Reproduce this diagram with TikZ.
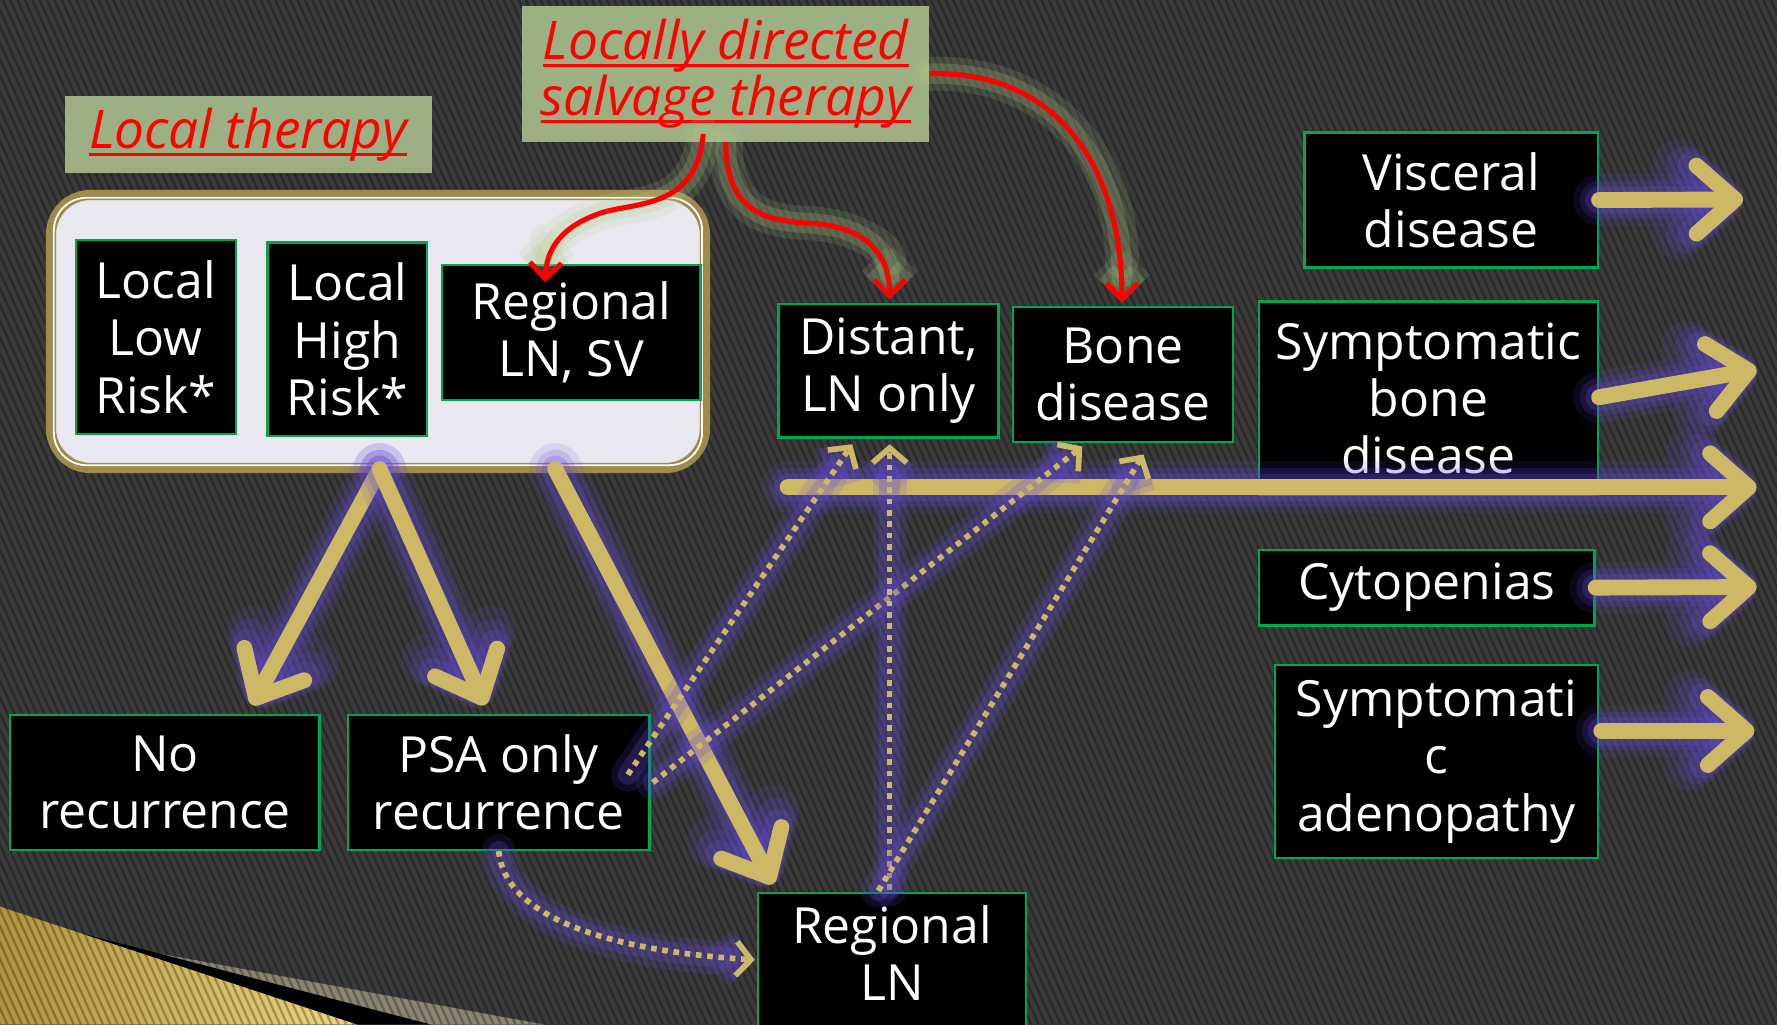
\documentclass[tikz,border=0pt]{standalone}
\usepackage{fontspec}
\setmainfont{Open Sans}
\usetikzlibrary{arrows.meta,calc}

\definecolor{bgbase}{RGB}{58,58,58}
\definecolor{gold}{RGB}{205,184,102}
\definecolor{glowp}{RGB}{100,74,215}
\definecolor{glowg}{RGB}{175,205,135}
\definecolor{sage}{RGB}{157,176,132}
\definecolor{boxgreen}{RGB}{0,165,80}
\definecolor{framegold}{RGB}{160,138,74}
\definecolor{panelfill}{RGB}{233,231,239}
\definecolor{wedgebeige}{RGB}{138,133,112}
\definecolor{wedgegoldA}{RGB}{176,148,62}
\definecolor{wedgegoldB}{RGB}{238,214,130}

\newcommand\boxfont{\fontsize{44}{50.5}\selectfont}
\newcommand\headfont{\fontsize{47}{49}\selectfont\itshape}
% underline drawn at a fixed depth below the baseline
\newcommand\redul[1]{\leavevmode\setbox0\hbox{#1}\rlap{\rule[-6.5pt]{\wd0}{2.6pt}}\box0}

\tikzset{
  box/.style={draw=boxgreen, line width=2, fill=black, text=white, align=center,
    inner sep=0, font=\boxfont},
  boxtext/.style={text=white, align=center, inner sep=0, font=\boxfont},
  head/.style={fill=sage, inner sep=0, text=red, align=center, font=\headfont},
  garrow/.style={draw=gold, line width=14, line cap=round,
    -{Straight Barb[length=34pt,width=60pt,round]},
    preaction={draw=glowp, opacity=.12, line width=46, line cap=round},
    preaction={draw=glowp, opacity=.18, line width=34, line cap=round},
    preaction={draw=glowp, opacity=.25, line width=24, line cap=round}},
  darrow/.style={draw=gold, line width=5, dash pattern=on 5pt off 5pt,
    -{Straight Barb[length=13pt,width=30pt]},
    preaction={draw=glowp, opacity=.16, line width=30, solid, line cap=round},
    preaction={draw=glowp, opacity=.24, line width=18, solid, line cap=round}},
  rarrow/.style={draw=red, line width=4.5,
    -{Straight Barb[length=14pt,width=28pt]},
    preaction={draw=glowg, opacity=.15, line width=30, line cap=round},
    preaction={draw=glowg, opacity=.22, line width=18, line cap=round}},
}

\begin{document}
\begin{tikzpicture}[x=1pt,y=-1pt]
\useasboundingbox (0,0) rectangle (1568,904);

% backdrop
\fill[bgbase] (0,0) rectangle (1568,904);
\fill[wedgebeige] (95,833) -- (480,904) -- (0,904) -- (0,833) -- cycle;
\fill[black] (70,823) -- (380,904) -- (0,904) -- cycle;
\shade[left color=wedgegoldA, right color=wedgegoldB] (0,800) -- (315,904) -- (0,904) -- cycle;
\begin{scope}
  \clip (0,0) rectangle (1568,904);
  \foreach \i in {-420,-413.5,...,1570}
    \draw[black, opacity=.28, line width=2] (\i,0) -- ++(407,904);
\end{scope}

% headings
\node[head, minimum width=324, minimum height=68] (localth) at (219,119)
  {\redul{Local therapy}};
\node[head, minimum width=359, minimum height=120] (salvage) at (640.5,65)
  {\redul{Locally directed}\\\redul{salvage therapy}};

% panel of local states
\node[draw=framegold, line width=9, fill=panelfill, rounded corners=35,
  minimum width=577, minimum height=241] (panel) at (333.5,292.5) {};
\draw[white, line width=1.6, rounded corners=29]
  ($(panel.south west)+(7,-7)$) rectangle ($(panel.north east)+(-7,7)$);

\node[box, minimum width=141, minimum height=171] (lowrisk) at (137.5,297.5) {Local\\Low\\Risk*};
\node[box, minimum width=141, minimum height=171] (highrisk) at (306.5,299.5) {Local\\High\\Risk*};
\node[box, minimum width=228, minimum height=119] (regsv) at (504,293.5) {Regional\\LN, SV};

% disease states
\node[box, minimum width=194, minimum height=118] (distant) at (784,327) {Distant,\\LN only};
\node[box, minimum width=194, minimum height=119] (bone) at (991,330.5) {Bone\\disease};
\node[box, minimum width=259, minimum height=119] (visceral) at (1280.5,176.5) {Visceral\\disease};
\node[box, minimum width=299, minimum height=171] (symbone) at (1260.5,351.5) {Symptomatic\\bone\\disease};
\node[box, minimum width=296, minimum height=67] (cyto) at (1259,518.5) {Cytopenias};
\node[box, minimum width=285, minimum height=170] (symadeno) at (1267.5,672) {Symptomati\\c\\adenopathy};
\node[box, minimum width=273, minimum height=119] (norec) at (145.5,690.5) {No\\recurrence};
\node[box, minimum width=266, minimum height=119] (psa) at (440,690.5) {PSA only\\recurrence};
\node[box, minimum width=236, minimum height=160, anchor=north] (reglnbox) at (787,787) {};
\node[boxtext] (regln) at (787,841) {Regional\\LN};

% solid transitions
\coordinate (fork) at (335,414);
\coordinate (forkb) at (490,414);
\coordinate (hl) at (695,430);
\coordinate (hr) at (1550,430);
\coordinate (ve) at (1538,176);
\coordinate (be) at (1550,326);
\coordinate (ce) at (1550,518);
\coordinate (ae) at (1548,645);

\draw[garrow] (fork) -- ($(norec.north)+(77,-8)$);
\draw[garrow] (fork) -- ($(psa.north)+(-12,-8)$);
\draw[garrow] (forkb) -- ($(reglnbox.north west)+(14,-7)$);
\draw[garrow] (hl) -- (hr);
\draw[garrow] (visceral.east) -- (ve);
\draw[garrow] ($(symbone.east)+(0,-1)$) -- (be);
\draw[garrow] (cyto.east) -- (ce);
\draw[garrow] ($(symadeno.east)+(2,-27)$) -- (ae);

% dotted transitions
\draw[darrow] ($(psa.east)+(-20,-7)$) -- ($(distant.south)+(-32,5)$);
\draw[darrow] ($(psa.east)+(2,0)$) -- ($(bone.south)+(-36,3)$);
\draw[darrow] ($(reglnbox.north)+(-2,-2)$) -- ($(distant.south)+(1,5)$);
\draw[darrow] ($(reglnbox.north)+(-12,-1)$) -- ($(bone.south)+(18,10)$);
\draw[darrow] (psa.south) .. controls (445,805) and (525,838) .. ($(reglnbox.north west)+(-2,60)$);

% salvage therapy
\draw[rarrow] ($(salvage.south)+(-20,-7)$) .. controls (615,185) and (560,178) .. (530,188)
  .. controls (495,200) and (482,220) .. ($(regsv.north west)+(92,16)$);
\draw[rarrow] (salvage.south) .. controls (640,190) and (680,195) .. (715,197)
  .. controls (765,200) and (785,225) .. ($(distant.north)+(1,-3)$);
\draw[rarrow] (salvage.east) .. controls (935,62) and (990,150) .. ($(bone.north)+(-1,-3)$);
\end{tikzpicture}
\end{document}
